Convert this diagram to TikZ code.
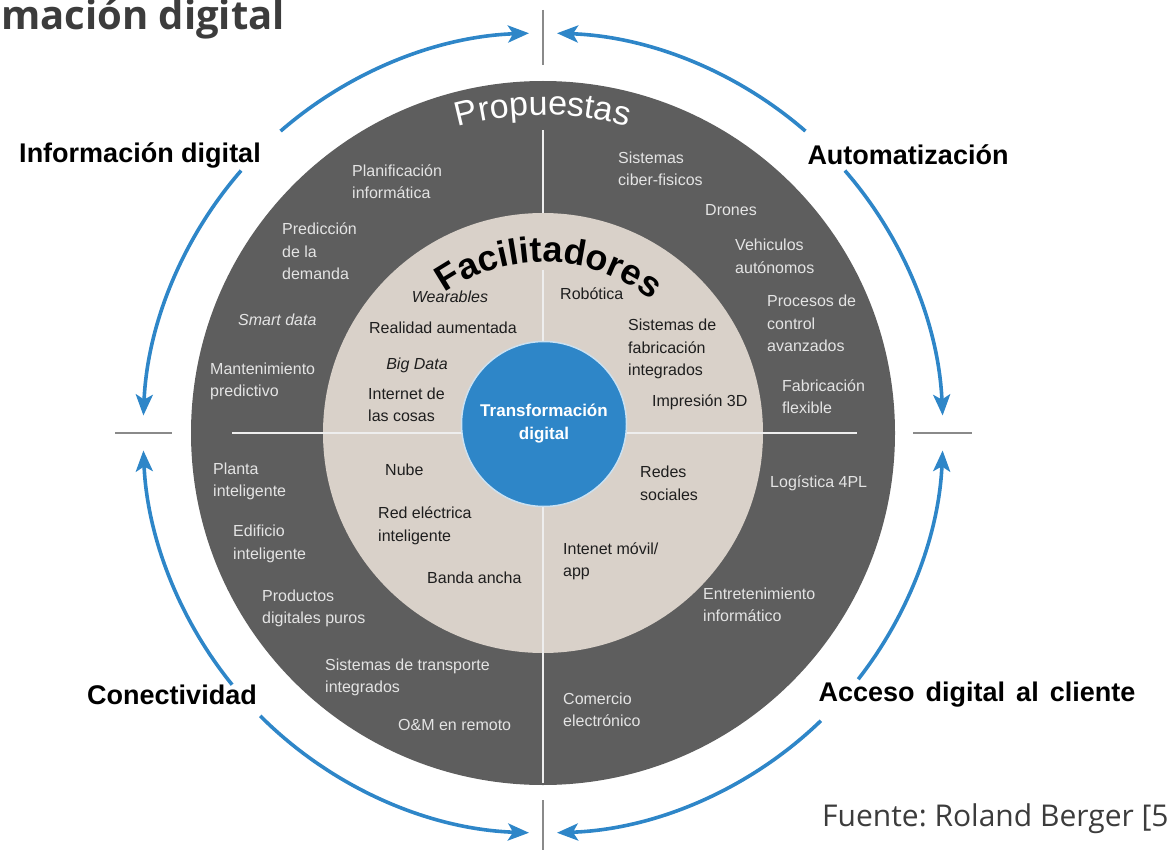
\documentclass[tikz,border=0pt]{standalone}
\usepackage{fontspec}
\setmainfont{Liberation Sans}
\newfontfamily\osans{Open Sans}
\usetikzlibrary{arrows.meta,decorations.text,calc}
\definecolor{ringdark}{HTML}{5E5E5E}
\definecolor{beige}{HTML}{D9D1C9}
\definecolor{tblue}{HTML}{2E86C8}
\definecolor{ringtext}{HTML}{E4E4E4}
\definecolor{coretext}{HTML}{1E1E1E}
\definecolor{divline}{HTML}{EEEEEE}
\definecolor{tickgray}{HTML}{8A8A8A}
\definecolor{titlegray}{HTML}{3C3C3C}
\newcommand{\wsp}{\hspace{11pt}}
\begin{document}
\frenchspacing
\begin{tikzpicture}[x=1pt,y=1pt,
  ringlbl/.style={font=\fontsize{16}{22.5}\selectfont, text=ringtext, align=left, anchor=west, inner sep=0pt},
  corelbl/.style={font=\fontsize{16}{22.5}\selectfont, text=coretext, align=left, anchor=west, inner sep=0pt},
  corelblc/.style={corelbl, anchor=center},
  outerlbl/.style={font=\fontsize{27}{30}\selectfont\bfseries, text=black, inner sep=0pt},
  cycarrow/.style={draw=tblue, line width=3.6pt, -{Stealth[length=21pt,width=17pt,inset=5pt]}},
  divider/.style={draw=divline, line width=1.8pt},
  sepmark/.style={draw=tickgray, line width=2pt}]
\useasboundingbox (0,0) rectangle (1167,-850);
\coordinate (C) at (543,-433);
% rings
\fill[ringdark] (C) circle (352pt);
\fill[beige] (C) circle (220pt);
% dividers
\draw[divider] (543,-130) -- (543,-213);
\draw[divider] (543,-270) -- (543,-783);
\draw[divider] (232,-433) -- (857,-433);
% centre
\node[circle, fill=tblue, draw=white!75!tblue, line width=1.5pt, minimum size=165pt, inner sep=0pt,
  font=\fontsize{17}{23}\selectfont\bfseries, text=white, align=center] (core) at (544,-424) {Transformación\\digital};
% curved titles
\path[decorate, decoration={text along path, text align=center,
  text={|\fontsize{34}{34}\selectfont\color{white}|Propuestas}}]
  ([shift={(150:318pt)}]C) arc[start angle=150, end angle=30, radius=318pt];
\path[decorate, decoration={text along path, text align=center,
  text={|\fontsize{36}{36}\selectfont\bfseries\color{black}|Facilitadores}}]
  ([shift={(148:171pt)}]C) arc[start angle=148, end angle=28, radius=171pt];
% outer ticks
\draw[sepmark] (543,-10) -- (543,-65);
\draw[sepmark] (543,-800) -- (543,-850);
\draw[sepmark] (115,-433) -- (172,-433);
\draw[sepmark] (913,-433) -- (972,-433);
% cycle arrows
\draw[cycarrow] ([shift={(131:400pt)}]C) arc[start angle=131, end angle=92, radius=400pt];
\draw[cycarrow] ([shift={(139:400pt)}]C) arc[start angle=139, end angle=177.5, radius=400pt];
\draw[cycarrow] ([shift={(49:400pt)}]C) arc[start angle=49, end angle=88, radius=400pt];
\draw[cycarrow] ([shift={(41:400pt)}]C) arc[start angle=41, end angle=2.5, radius=400pt];
\draw[cycarrow] ([shift={(-38:400pt)}]C) arc[start angle=-38, end angle=-2.5, radius=400pt];
\draw[cycarrow] ([shift={(-46:400pt)}]C) arc[start angle=-46, end angle=-88, radius=400pt];
\draw[cycarrow] ([shift={(219:400pt)}]C) arc[start angle=219, end angle=182.5, radius=400pt];
\draw[cycarrow] ([shift={(225:400pt)}]C) arc[start angle=225, end angle=268, radius=400pt];
% outer labels
\node[outerlbl] (info) at (140,-155) {Información digital};
\node[outerlbl] (auto) at (908,-155) {Automatización};
\node[outerlbl] (conec) at (172,-695) {Conectividad};
\node[outerlbl] (acceso) at (977,-695) {Acceso\wsp digital\wsp al\wsp cliente};
% title and source
\node[font=\osans\fontsize{40}{40}\selectfont\bfseries, text=titlegray, anchor=base west, inner sep=0pt] (title) at (1,-30) {mación digital};
\node[font=\osans\fontsize{30}{30}\selectfont, text=titlegray, anchor=base west, inner sep=0pt] (src) at (822,-826) {Fuente: Roland Berger [5};
% top-left ring
\node[ringlbl] (plan) at (352,-181.5) {Planificación\\informática};
\node[ringlbl] (pred) at (282,-251.5) {Predicción\\de la\\demanda};
\node[ringlbl, font=\fontsize{16}{22.5}\selectfont\itshape] (smart) at (238,-320) {Smart data};
\node[ringlbl] (mant) at (210,-381.5) {Mantenimiento\\predictivo};
% top-left core
\node[corelblc, font=\fontsize{16}{22.5}\selectfont\itshape] (wear) at (450,-297) {Wearables};
\node[corelblc] (real) at (443,-328) {Realidad aumentada};
\node[corelblc, font=\fontsize{16}{22.5}\selectfont\itshape] (big) at (417,-365) {Big Data};
\node[corelbl] (iot) at (368,-405) {Internet de\\las cosas};
% top-right ring
\node[ringlbl] (cps) at (618,-169) {Sistemas\\ciber-fisicos};
\node[ringlbl] (drones) at (705,-210) {Drones};
\node[ringlbl] (veh) at (735,-256.5) {Vehiculos\\autónomos};
\node[ringlbl] (proc) at (767,-323.5) {Procesos de\\control\\avanzados};
\node[ringlbl] (fab) at (782,-396.5) {Fabricación\\flexible};
% top-right core
\node[corelbl] (robo) at (560,-294) {Robótica};
\node[corelbl] (sfab) at (628,-349) {Sistemas de\\fabricación\\integrados};
\node[corelbl] (imp) at (652,-402) {Impresión 3D};
% bottom-left ring
\node[ringlbl] (planta) at (213,-481.5) {Planta\\inteligente};
\node[ringlbl] (edif) at (233,-544) {Edificio\\inteligente};
\node[ringlbl] (prod) at (262,-608.5) {Productos\\digitales puros};
\node[ringlbl] (trans) at (325,-677.5) {Sistemas de transporte\\integrados};
\node[ringlbl] (om) at (398,-725) {O\&M en remoto};
% bottom-left core
\node[corelbl] (nube) at (385,-470) {Nube};
\node[corelbl] (red) at (378,-526) {Red eléctrica\\inteligente};
\node[corelbl] (banda) at (427,-578) {Banda ancha};
% bottom-right core
\node[corelbl] (redes) at (640,-483.5) {Redes\\sociales};
\node[corelbl] (movil) at (563,-561.5) {Intenet móvil/\\app};
% bottom-right ring
\node[ringlbl] (log) at (770,-483) {Logística 4PL};
\node[ringlbl] (entre) at (703,-605) {Entretenimiento\\informático};
\node[ringlbl] (com) at (563,-710) {Comercio\\electrónico};
\end{tikzpicture}
\end{document}
